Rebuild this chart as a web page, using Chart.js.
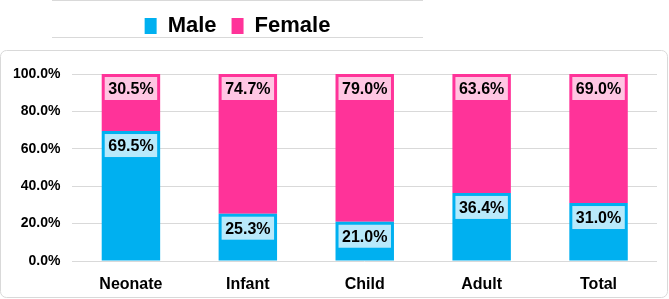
<!DOCTYPE html>
<html>
<head>
<meta charset="utf-8">
<script src="https://cdn.jsdelivr.net/npm/chart.js@4.4.0/dist/chart.umd.min.js"></script>
<style>
  html, body { margin: 0; padding: 0; background: #fff; }
  #wrap { width: 669px; height: 299px; position: relative; }
</style>
</head>
<body>
<div id="wrap"><canvas id="mycanvas"></canvas></div>
<script>
// chart values
var groups = ["Neonate", "Infant", "Child", "Adult", "Total"];
var male_pct = [69.5, 25.3, 21.0, 36.4, 31.0];
var female_pct = [30.5, 74.7, 79.0, 63.6, 69.0];
var y_ticks = [0, 20, 40, 60, 80, 100];

var maleColor = "#00B0F0";
var femaleColor = "#FF3399";

// outer frame + legend box lines
var framePlugin = {
  id: "frame",
  beforeDraw: function(chart) {
    var c = chart.ctx;
    c.save();
    c.strokeStyle = "#d9d9d9";
    c.lineWidth = 1;
    c.beginPath();
    c.moveTo(52, 0.5); c.lineTo(423, 0.5);
    c.moveTo(52, 37.5); c.lineTo(423, 37.5);
    c.stroke();
    c.beginPath();
    c.roundRect(0.5, 50.5, 667, 247, 6);
    c.stroke();
    c.restore();
  }
};

// put the legend inside its own box, make it tall enough
var legendPlacer = {
  id: "legendPlacer",
  beforeInit: function(chart) {
    var fit = chart.legend.fit;
    chart.legend.fit = function() {
      fit.bind(chart.legend)();
      this.height = 74;
    };
  },
  afterLayout: function(chart) {
    chart.legend.left = 52;
    chart.legend.right = 423;
  }
};

// value boxes on top of each segment
var valueLabels = {
  id: "valueLabels",
  afterDatasetsDraw: function(chart) {
    var c = chart.ctx;
    c.save();
    c.font = "bold 16px 'Liberation Sans', Arial, sans-serif";
    c.textAlign = "center";
    c.textBaseline = "middle";
    chart.data.datasets.forEach(function(ds, di) {
      var meta = chart.getDatasetMeta(di);
      meta.data.forEach(function(bar, i) {
        var w = bar.width - 6;
        var h = 23;
        var top = bar.y + 3;
        c.fillStyle = "rgba(255,255,255,0.72)";
        c.fillRect(bar.x - w / 2, top, w, h);
        c.fillStyle = "#000";
        c.fillText(ds.data[i].toFixed(1) + "%", bar.x, top + h / 2 + 1);
      });
    });
    c.restore();
  }
};

var ctx = document.getElementById("mycanvas");
var chart = new Chart(ctx, {
  type: "bar",
  data: {
    labels: groups,
    datasets: [
      { label: "Male", data: male_pct, backgroundColor: maleColor,
        barPercentage: 0.5, categoryPercentage: 1.0 },
      { label: "Female", data: female_pct, backgroundColor: femaleColor,
        barPercentage: 0.5, categoryPercentage: 1.0 }
    ]
  },
  options: {
    responsive: true,
    maintainAspectRatio: false,
    animation: { duration: 0 },
    layout: { padding: { left: 1, right: 12, top: 0, bottom: 0 } },
    plugins: {
      tooltip: { enabled: false },
      legend: {
        position: "top",
        align: "center",
        labels: {
          boxWidth: 12,
          boxHeight: 16,
          padding: 15,
          color: "#000",
          font: { family: "'Liberation Sans', Arial, sans-serif", size: 22, weight: "bold" }
        }
      }
    },
    scales: {
      x: {
        stacked: true,
        grid: { display: false, drawTicks: false },
        border: { display: false },
        afterFit: function(axis) { axis.height = 38; },
        ticks: {
          padding: 14,
          color: "#000",
          font: { family: "'Liberation Sans', Arial, sans-serif", size: 16, weight: "bold" }
        }
      },
      y: {
        stacked: true,
        min: y_ticks[0],
        max: y_ticks[y_ticks.length - 1],
        border: { display: false },
        grid: { color: "#d9d9d9", drawTicks: false },
        afterBuildTicks: function(axis) {
          axis.ticks = y_ticks.map(function(v) { return { value: v }; });
        },
        ticks: {
          padding: 12,
          color: "#000",
          font: { family: "'Liberation Sans', Arial, sans-serif", size: 14, weight: "bold" },
          callback: function(v) { return v.toFixed(1) + "%"; }
        }
      }
    }
  },
  plugins: [framePlugin, legendPlacer, valueLabels]
});
</script>
</body>
</html>
